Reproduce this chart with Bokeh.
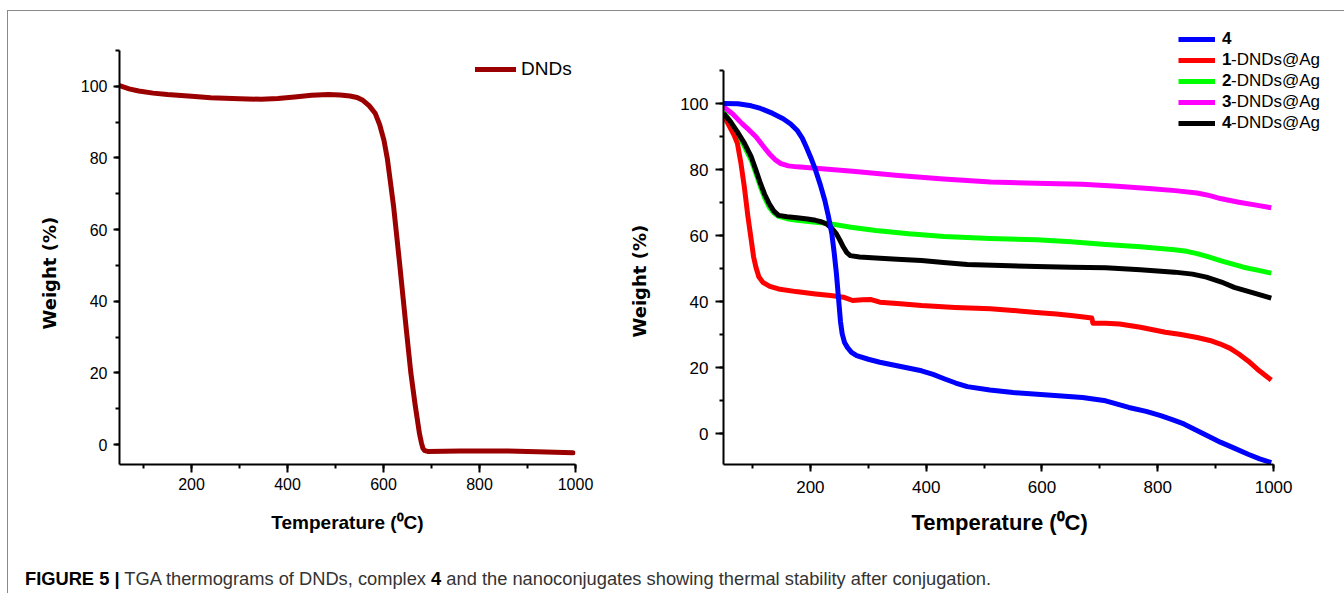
from bokeh.plotting import figure
from bokeh.models import Range1d, SingleIntervalTicker, Legend, LegendItem, Div, Title
from bokeh.layouts import row, column
from bokeh.embed import file_html
from bokeh.resources import INLINE

# ---------------- data ----------------
dnd_T = [50, 70, 90, 120, 150, 200, 240, 300, 345, 380, 415, 450, 485, 510, 530, 545, 557, 570, 583, 592, 601, 608,
         614, 621, 627, 634, 640, 648, 657, 666, 675, 679, 682, 686, 692, 760, 855, 920, 995]
dnd_W = [100.2, 99.3, 98.7, 98.1, 97.7, 97.2, 96.8, 96.5, 96.4, 96.6, 97.0, 97.5, 97.7, 97.6, 97.3, 96.9, 96.1, 94.6,
         92.4, 89.3, 84.9, 79.8, 73.7, 66.5, 58.9, 50.0, 42.0, 31.5, 20.0, 11.0, 3.0, 0.5, -1.0, -1.7, -1.9, -1.8, -1.8,
         -2.0, -2.3]

c4_T = [50, 75, 98, 114, 135, 153, 166, 177, 186, 193, 201, 209, 217, 225, 231, 237, 241, 245, 249, 252, 255, 259, 264,
        271, 280, 300, 320, 356, 392, 412, 431, 451, 471, 510, 550, 610, 670, 710, 750, 780, 805, 825, 845, 878, 909,
        933, 956, 976, 996]
c4_W = [100.0, 99.9, 99.3, 98.5, 97.0, 95.4, 93.8, 91.9, 89.5, 86.8, 83.5, 79.8, 75.5, 70.6, 66.0, 60.6, 55.0, 48.5,
        40.2, 34.0, 30.2, 27.6, 26.1, 24.6, 23.6, 22.5, 21.6, 20.3, 19.0, 17.9, 16.6, 15.3, 14.2, 13.2, 12.4, 11.7, 10.9,
        9.9, 7.9, 6.7, 5.4, 4.2, 2.9, 0.0, -2.7, -4.5, -6.3, -7.7, -8.8]

n1_T = [50, 55, 62, 68, 74, 80, 86, 92, 98, 102, 106, 111, 118, 130, 145, 175, 209, 235, 257, 273, 290, 305, 320, 350,
        392, 450, 511, 550, 590, 625, 654, 672, 686, 688, 710, 734, 770, 813, 840, 868, 890, 908, 925, 940, 956, 972, 996]
n1_W = [95.9, 94.8, 92.5, 90.5, 87.9, 82.0, 74.7, 66.0, 58.5, 53.5, 50.4, 47.5, 45.8, 44.6, 43.8, 43.0, 42.3, 41.8,
        41.3, 40.3, 40.5, 40.6, 39.8, 39.4, 38.8, 38.2, 37.8, 37.3, 36.7, 36.2, 35.7, 35.3, 35.0, 33.4, 33.4, 33.2, 32.2,
        30.7, 30.0, 29.1, 28.2, 27.1, 25.8, 24.1, 22.0, 19.5, 16.2]

n2_T = [50, 62, 74, 86, 98, 106, 114, 121, 129, 137, 145, 160, 177, 205, 233, 270, 313, 370, 431, 510, 591, 650, 710,
        770, 829, 850, 868, 888, 908, 928, 948, 972, 996]
n2_W = [97.5, 94.5, 90.9, 87.0, 82.8, 78.8, 74.7, 71.5, 68.6, 66.8, 65.8, 65.1, 64.6, 64.1, 63.6, 62.5, 61.5, 60.5,
        59.7, 59.1, 58.7, 58.1, 57.3, 56.6, 55.7, 55.2, 54.5, 53.5, 52.4, 51.4, 50.4, 49.5, 48.6]

n3_T = [50, 66, 82, 94, 106, 118, 129, 139, 149, 162, 177, 220, 273, 352, 430, 511, 590, 670, 730, 790, 830, 868, 890,
        908, 925, 940, 970, 996]
n3_W = [99.0, 96.8, 93.9, 92.0, 89.9, 87.2, 84.8, 83.0, 81.8, 81.1, 80.8, 80.2, 79.5, 78.2, 77.1, 76.2, 75.8, 75.5,
        74.9, 74.2, 73.6, 72.9, 72.1, 71.2, 70.6, 70.1, 69.2, 68.4]

n4_T = [50, 62, 74, 86, 98, 106, 114, 121, 129, 137, 145, 160, 177, 195, 209, 220, 229, 237, 245, 251, 257, 263, 269,
        285, 313, 350, 392, 430, 471, 530, 591, 650, 710, 770, 829, 860, 884, 910, 932, 965, 996]
n4_W = [97.0, 94.5, 91.4, 88.0, 83.8, 79.8, 75.7, 72.5, 69.6, 67.4, 66.1, 65.7, 65.4, 65.0, 64.6, 64.1, 63.4, 62.2,
        60.5, 58.6, 56.5, 54.8, 53.9, 53.5, 53.2, 52.8, 52.4, 51.8, 51.2, 50.9, 50.6, 50.4, 50.2, 49.6, 48.9, 48.3,
        47.4, 45.9, 44.3, 42.6, 41.0]

right_bold = ["4", "1", "2", "3", "4"]
right_rest = [" ", "-DNDs@Ag", "-DNDs@Ag", "-DNDs@Ag", "-DNDs@Ag"]
x_label = "Temperature (\u2070C)"
y_label = "Weight (%)"

SANS = "Liberation Sans"
YFONT = "DejaVu Sans"


def style_axes(p, tick_size, ytick_out, xtick_out, ytick_standoff, xtick_standoff):
    for ax in (p.xaxis[0], p.yaxis[0]):
        ax.axis_line_width = 2
        ax.axis_line_color = "black"
        ax.major_tick_line_width = 2
        ax.minor_tick_line_width = 2
        ax.major_tick_line_color = "black"
        ax.minor_tick_line_color = "black"
        ax.major_tick_in = 0
        ax.minor_tick_in = 0
        ax.minor_tick_out = 4
        ax.major_label_text_font = SANS
        ax.major_label_text_font_size = tick_size
        ax.major_label_text_color = "black"
        ax.axis_label_text_color = "black"
    p.yaxis[0].major_tick_out = ytick_out
    p.xaxis[0].major_tick_out = xtick_out
    p.xaxis[0].ticker = SingleIntervalTicker(interval=200, num_minor_ticks=2)
    p.yaxis[0].ticker = SingleIntervalTicker(interval=20, num_minor_ticks=2)
    p.yaxis[0].major_label_standoff = ytick_standoff
    p.xaxis[0].major_label_standoff = xtick_standoff
    p.xgrid.visible = False
    p.ygrid.visible = False
    p.outline_line_color = None
    p.background_fill_color = "white"
    p.border_fill_color = "white"


def side_title(text, font, size, offset, standoff):
    return Title(text=text, align="left", offset=offset, text_font=font, text_font_style="bold",
                 text_font_size=size, text_color="black", standoff=standoff)


H = 549
TOP = 16          # both frames start at y = 27
BOTTOM = H + 11 - 464

# ---------------- left chart ----------------
p1 = figure(width=590, height=H, output_backend="svg", toolbar_location=None,
            x_range=Range1d(50, 1000), y_range=Range1d(-5.56, 116.42),
            min_border_left=111, min_border_right=23, min_border_top=TOP, min_border_bottom=BOTTOM)
style_axes(p1, "16px", 6, 8, 6, 5)
p1.yaxis[0].bounds = (-5.56, 110)
p1.xaxis[0].axis_label = x_label
p1.xaxis[0].axis_label_text_font = SANS
p1.xaxis[0].axis_label_text_font_style = "bold"
p1.xaxis[0].axis_label_text_font_size = "19px"
p1.xaxis[0].axis_label_standoff = 19
p1.add_layout(side_title(y_label, YFONT, "18px", 135, 36), "left")
r_dnd = p1.line(dnd_T, dnd_W, line_color="#9b0000", line_width=5, line_join="round", line_cap="round")
leg1 = Legend(items=[LegendItem(label="DNDs", renderers=[r_dnd])], location=(356, 384),
              padding=0, margin=0, border_line_color=None, background_fill_alpha=0,
              glyph_width=41, glyph_height=22, label_height=22, label_standoff=5,
              label_text_font=SANS, label_text_font_size="19px", label_text_color="black")
p1.add_layout(leg1)

# ---------------- right chart ----------------
p2 = figure(width=746, height=H, output_backend="svg", toolbar_location=None,
            x_range=Range1d(50, 1098.3), y_range=Range1d(-9.39, 123.03),
            min_border_left=124, min_border_right=14, min_border_top=TOP, min_border_bottom=BOTTOM)
style_axes(p2, "17px", 8, 7, 7, 9)
p2.yaxis[0].bounds = (-9.39, 110)
p2.xaxis[0].bounds = (50, 1000)
p2.add_layout(side_title(y_label, YFONT, "18px", 127, 56), "left")
p2.add_layout(side_title(x_label, SANS, "22px", 188, 24), "below")
r2 = p2.line(n2_T, n2_W, line_color="#00ff00", line_width=5, line_join="round")
r1 = p2.line(n1_T, n1_W, line_color="#ff0000", line_width=5, line_join="round")
r3 = p2.line(n3_T, n3_W, line_color="#ff00ff", line_width=5, line_join="round")
r4 = p2.line(n4_T, n4_W, line_color="black", line_width=5, line_join="round")
r0 = p2.line(c4_T, c4_W, line_color="#0000ff", line_width=5, line_join="round")
blank = p2.line([], [], line_alpha=0)
legA = Legend(items=[LegendItem(label=lab, renderers=[r]) for lab, r in zip(right_bold, [r0, r1, r2, r3, r4])],
              location=(455, 331), padding=0, margin=0, border_line_color=None, background_fill_alpha=0,
              glyph_width=37, glyph_height=20, label_height=20, label_standoff=7, spacing=1,
              label_text_font=SANS, label_text_font_size="17px", label_text_font_style="bold",
              label_text_color="black")
legB = Legend(items=[LegendItem(label=lab, renderers=[blank]) for lab in right_rest],
              location=(455, 331), padding=0, margin=0, border_line_color=None, background_fill_alpha=0,
              glyph_width=44, glyph_height=20, label_height=20, label_standoff=9, spacing=1,
              label_text_font=SANS, label_text_font_size="17px", label_text_color="black")
p2.add_layout(legA)
p2.add_layout(legB)

caption = Div(text=('<div style="padding:10px 0 0 17px; line-height:18px; white-space:nowrap; '
                    'font-family:\'Liberation Sans\', Arial, sans-serif; font-size:18.3px; color:#333;">'
                    '<b style="color:#000">FIGURE 5 |</b> TGA thermograms of DNDs, complex '
                    '<b style="color:#000">4</b> and the nanoconjugates showing thermal stability after conjugation.</div>'),
              width=1336, height=33, margin=0)

layout = column(row(p1, p2), caption,
                styles={"border-top": "1px solid #8a8a8a", "border-left": "1px solid #8a8a8a",
                        "margin-top": "10px", "margin-left": "7px"})

open("out.html", "w").write(file_html(layout, INLINE))
